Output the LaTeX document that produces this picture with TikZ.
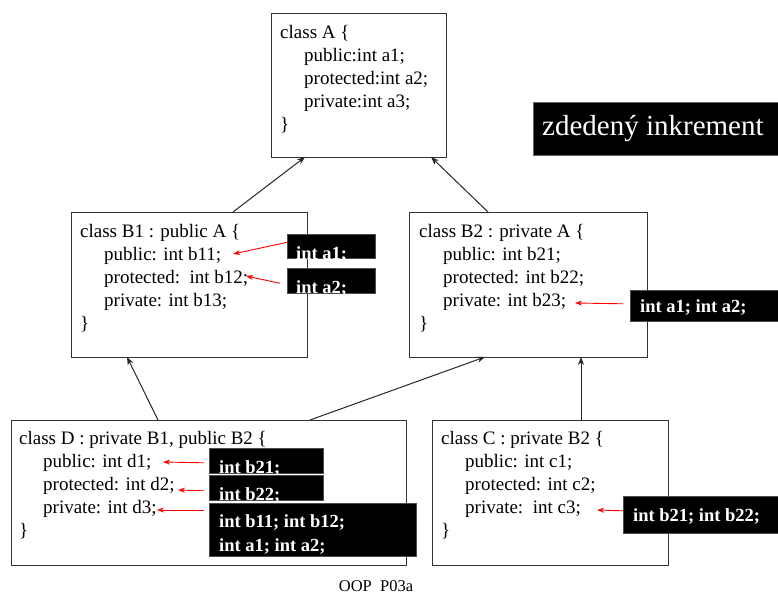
\documentclass[tikz,border=0pt]{standalone}
\usepackage{fontspec}
\setmainfont{Liberation Serif}
\usetikzlibrary{arrows.meta}
\begin{document}
\begin{tikzpicture}[x=1pt,y=-1pt,
  classbox/.style={draw=black!80,line width=1.3pt,fill=white,inner sep=0pt},
  classtext/.style={anchor=north west,inner sep=0pt,align=left,font=\fontsize{19}{23}\selectfont},
  blackbox/.style={fill=black,draw=black!70,line width=0.6pt,inner sep=0pt},
  blacktext/.style={anchor=base west,inner sep=0pt,text=white,font=\fontsize{18.5}{24}\selectfont\bfseries},
  inherit/.style={-{Stealth[length=8pt,width=6pt]},line width=1pt,black!85},
  mapto/.style={-{Stealth[length=7pt,width=5pt]},line width=0.9pt,red},
]
\useasboundingbox (0,0) rectangle (778,594);
\newcommand{\ind}{\hspace*{24pt}}
% class boxes
\node[classbox,minimum width=175pt,minimum height=144pt,anchor=north west] (A) at (271,13) {};
\node[classbox,minimum width=236pt,minimum height=145pt,anchor=north west] (B1) at (71,212) {};
\node[classbox,minimum width=238pt,minimum height=145pt,anchor=north west] (B2) at (409,212) {};
\node[classbox,minimum width=395pt,minimum height=145pt,anchor=north west] (D) at (11,420) {};
\node[classbox,minimum width=236pt,minimum height=145pt,anchor=north west] (C) at (432,420) {};
% texts
\node[classtext] (At) at (280,25) {class A \{\\\ind public:int a1;\\\ind protected:int a2;\\\ind private:int a3;\\\}};
\node[classtext] (B1t) at (80,224) {class B1 : public A \{\\\ind public: int b11;\\\ind protected:\ \ int b12;\\\ind private: int b13;\\\}};
\node[classtext] (B2t) at (419,224) {class B2 : private A \{\\\ind public: int b21;\\\ind protected: int b22;\\\ind private: int b23;\\\}};
\node[classtext] (Dt) at (19,431) {class D : private B1, public B2 \{\\\ind public: int d1;\\\ind protected: int d2;\\\ind private: int d3;\\\}};
\node[classtext] (Ct) at (441,431) {class C : private B2 \{\\\ind public: int c1;\\\ind protected: int c2;\\\ind private:\ \ int c3;\\\}};
% inheritance arrows
\coordinate (b1a) at (233,212); \coordinate (ab1) at (305,157);
\coordinate (b2a) at (488,212); \coordinate (ab2) at (431,157);
\coordinate (db1) at (158,420); \coordinate (b1d) at (127,357);
\coordinate (db2) at (310,420); \coordinate (b2d) at (485,357);
\coordinate (cb2) at (581,420); \coordinate (b2c) at (581,357);
\draw[inherit] (b1a) -- (ab1);
\draw[inherit] (b2a) -- (ab2);
\draw[inherit] (db1) -- (b1d);
\draw[inherit] (db2) -- (b2d);
\draw[inherit] (cb2) -- (b2c);
% title
\node[fill=black,draw=black!60,line width=0.6pt,minimum width=245pt,minimum height=53pt,anchor=north west,inner sep=0pt] (Z) at (533,102) {};
\node[anchor=west,text=white,inner sep=0pt,font=\fontsize{29}{34}\selectfont] (Zt) at (542,129) {zdedený inkrement};
% black boxes
\node[blackbox,minimum width=88pt,minimum height=24pt,anchor=north west] (a1) at (287,234) {};
\node[blacktext] (a1t) at (296,259) {int a1;};
\node[blackbox,minimum width=88pt,minimum height=25pt,anchor=north west] (a2) at (287,268) {};
\node[blacktext] (a2t) at (296,293) {int a2;};
\node[blackbox,minimum width=148pt,minimum height=31pt,anchor=north west] (bb2) at (630,290) {};
\node[blacktext] (bb2t) at (640,312) {int a1; int a2;};
\node[blackbox,minimum width=114pt,minimum height=25pt,anchor=north west] (d1) at (209,448) {};
\node[blacktext] (d1t) at (219,473) {int b21;};
\node[blackbox,minimum width=114pt,minimum height=25pt,anchor=north west] (d2) at (209,475) {};
\node[blacktext] (d2t) at (219,500) {int b22;};
\node[blackbox,minimum width=207pt,minimum height=53pt,anchor=north west] (d3) at (209,503) {};
\node[blacktext] (d3t) at (219,527) {int b11; int b12;};
\node[blacktext] (d3u) at (219,551) {int a1; int a2;};
\node[blackbox,minimum width=155pt,minimum height=37pt,anchor=north west] (cc) at (623,496) {};
\node[blacktext] (cct) at (633,521) {int b21; int b22;};
% red arrows
\coordinate (t1) at (233,254); \coordinate (t2) at (246,276);
\coordinate (t3) at (575,303);
\coordinate (t4) at (163,462); \coordinate (t5) at (178,490); \coordinate (t6) at (157,510);
\coordinate (t7) at (597,510);
\draw[mapto] (a1.west) ++(0,-4) coordinate (s1) (s1) -- (t1);
\draw[mapto] (a2.west) ++(-7,2.5) coordinate (s2) (s2) -- (t2);
\draw[mapto] (bb2.west) ++(-7,-2) coordinate (s3) (s3) -- (t3);
\draw[mapto] (d1.west) ++(-5,2) coordinate (s4) (s4) -- (t4);
\draw[mapto] (d2.west) ++(-5,3) coordinate (s5) (s5) -- (t5);
\draw[mapto] (d3.north west) ++(-5,7) coordinate (s6) (s6) -- (t6);
\draw[mapto] (cc.west) ++(0,-4) coordinate (s7) (s7) -- (t7);
% footer
\node[font=\fontsize{16.5}{19}\selectfont,inner sep=0pt] (foot) at (376,586) {OOP\ \ P03a};
\end{tikzpicture}
\end{document}
